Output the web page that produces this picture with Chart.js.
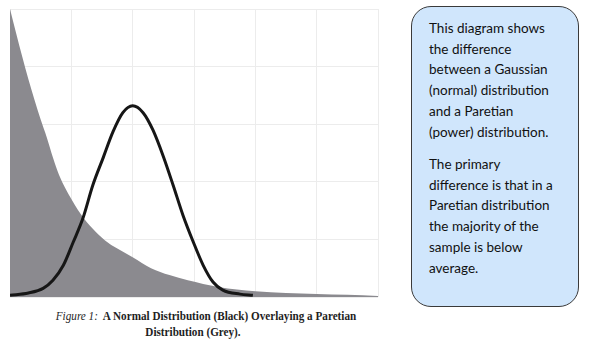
<!DOCTYPE html>
<html>
<head>
<meta charset="utf-8">
<script src="https://cdn.jsdelivr.net/npm/chart.js@4/dist/chart.umd.min.js"></script>
<style>
  html, body { margin: 0; padding: 0; background: #ffffff; }
  body { width: 591px; height: 346px; position: relative; overflow: hidden; }
  #wrap { position: absolute; left: 0; top: 0; width: 380px; height: 298px; }
  .cap {
    position: absolute; width: 380px; text-align: center; white-space: nowrap;
    font-family: "Liberation Serif", "DejaVu Serif", serif; font-size: 12px; line-height: 15.5px;
    color: #1e1e1e; font-weight: bold; transform: scaleX(0.93); transform-origin: 50% 50%;
  }
  .cap i { font-weight: normal; }
  #note {
    position: absolute; left: 411px; top: 6px; width: 166px; height: 299px;
    background: #d0e6fc; border: 1px solid #3a3a3a; border-radius: 20px;
    box-sizing: content-box;
  }
  #note p {
    margin: 0; position: absolute; left: 17px; width: 150px;
    font-family: Lato, "Open Sans", sans-serif; font-size: 13.5px; line-height: 20.7px; color: #111;
  }
</style>
</head>
<body>
<div id="wrap"><canvas id="c"></canvas></div>
<div class="cap" style="left:16px; top:309px"><i>Figure 1:</i>&nbsp; A Normal Distribution (Black) Overlaying a Paretian</div>
<div class="cap" style="left:3px; top:324.5px">Distribution (Grey).</div>
<div id="note">
  <p style="top:11px">This diagram shows<br>the difference<br>between a Gaussian<br>(normal) distribution<br>and a Paretian<br>(power) distribution.</p>
  <p style="top:147px">The primary<br>difference is that in a<br>Paretian distribution<br>the majority of the<br>sample is below<br>average.</p>
</div>
<script>
// Paretian (grey) distribution
const paretoX = [0, 0.1, 0.2, 0.3, 0.4, 0.5, 0.6, 0.7, 0.8, 1.0, 1.2, 1.4, 1.6, 1.8, 2.0, 2.3, 2.6, 2.9, 3.4, 4.0, 4.5, 5.0, 5.5, 6.0];
const paretoY = [5.0, 4.58, 4.17, 3.78, 3.42, 3.08, 2.77, 2.42, 2.12, 1.70, 1.37, 1.13, 0.94, 0.81, 0.69, 0.50, 0.38, 0.29, 0.175, 0.10, 0.07, 0.052, 0.037, 0.017];

// Normal (black) distribution
const normalX = [0, 0.3, 0.54, 0.7, 0.87, 1.03, 1.19, 1.35, 1.52, 1.68, 1.84, 2.0, 2.17, 2.33, 2.5, 2.66, 2.82, 2.99, 3.15, 3.31, 3.47, 3.75, 3.96];
const normalY = [0.03, 0.07, 0.15, 0.29, 0.55, 0.95, 1.37, 1.94, 2.42, 2.87, 3.20, 3.32, 3.20, 2.90, 2.44, 1.94, 1.42, 0.95, 0.55, 0.26, 0.12, 0.05, 0.03];

const pareto = paretoX.map((x, i) => ({ x, y: paretoY[i] }));
const normal = normalX.map((x, i) => ({ x, y: normalY[i] }));

new Chart(document.getElementById('c'), {
  type: 'line',
  data: {
    datasets: [
      {
        label: 'Normal',
        data: normal,
        borderColor: '#161616',
        borderWidth: 3,
        pointRadius: 0,
        fill: false,
        cubicInterpolationMode: 'monotone',
        order: 0
      },
      {
        label: 'Paretian',
        data: pareto,
        borderColor: '#8b8a8f',
        backgroundColor: '#8b8a8f',
        borderWidth: 0,
        pointRadius: 0,
        fill: 'origin',
        cubicInterpolationMode: 'monotone',
        order: 1
      }
    ]
  },
  options: {
    responsive: true,
    maintainAspectRatio: false,
    animation: false,
    layout: { padding: { left: 10, top: 9, right: 2, bottom: 1 } },
    plugins: { legend: { display: false }, tooltip: { enabled: false } },
    scales: {
      x: {
        type: 'linear', min: 0, max: 6,
        ticks: { display: false, stepSize: 1 },
        grid: { color: '#ececec', drawTicks: false, lineWidth: 1 },
        border: { display: false }
      },
      y: {
        min: 0, max: 5,
        ticks: { display: false, stepSize: 1 },
        grid: { color: '#ececec', drawTicks: false, lineWidth: 1 },
        border: { display: false }
      }
    }
  }
});
</script>
</body>
</html>
